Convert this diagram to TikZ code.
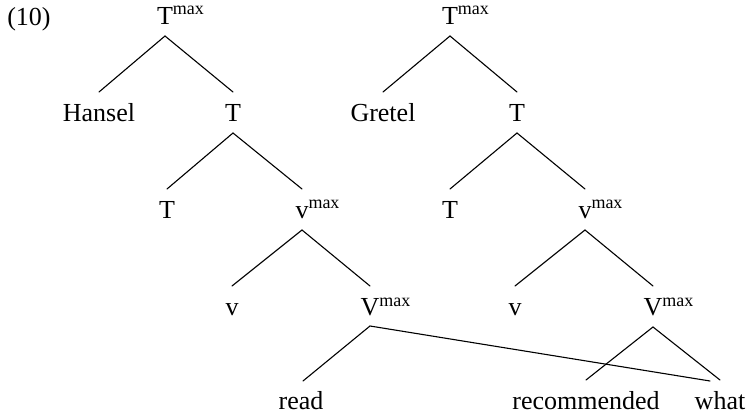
\documentclass[tikz,border=0pt]{standalone}
\usepackage{fontspec}
\setmainfont{Liberation Serif}
\usetikzlibrary{calc}
\newcommand{\mysup}[1]{\rlap{\raisebox{5pt}{\fontsize{9}{10}\selectfont #1}}}
\begin{document}
\begin{tikzpicture}[x=0.5pt,y=-0.5pt,
  lab/.style={inner sep=0pt,anchor=base,font=\fontsize{13}{15}\selectfont},
  branch/.style={line width=0.55pt,line cap=round}]
\useasboundingbox (0,0) rectangle (746,417);
\node[lab] (num) at (29,26) {(10)};
% left tree
\node[lab] (LTmax) at (165,25) {T\mysup{max}};
\node[lab] (Hansel) at (99,122) {Hansel};
\node[lab] (LT1) at (233,122) {T};
\node[lab] (LT2) at (167,219) {T};
\node[lab] (Lvmax) at (302,219) {v\mysup{max}};
\node[lab] (Lv) at (232,316) {v};
\node[lab] (LVmax) at (370,316) {V\mysup{max}};
\node[lab] (read) at (301,410) {read};
% right tree
\node[lab] (RTmax) at (450,25) {T\mysup{max}};
\node[lab] (Gretel) at (383,122) {Gretel};
\node[lab] (RT1) at (517,122) {T};
\node[lab] (RT2) at (450,219) {T};
\node[lab] (Rvmax) at (585,219) {v\mysup{max}};
\node[lab] (Rv) at (515,316) {v};
\node[lab] (RVmax) at (653,316) {V\mysup{max}};
\node[lab] (rec) at (586,410) {recommended};
\node[lab] (what) at (720,410) {what};
% branches
\foreach \p/\a/\b in {LTmax/Hansel/LT1, LT1/LT2/Lvmax, Lvmax/Lv/LVmax,
                      RTmax/Gretel/RT1, RT1/RT2/Rvmax, Rvmax/Rv/RVmax, RVmax/rec/what}{
  \draw[branch] ($(\a.base)+(0,-30)$) -- ($(\p.base)+(0,11)$) -- ($(\b.base)+(0,-30)$);
}
\draw[branch] ($(read.base)+(2,-29)$) -- ($(LVmax.base)+(0,10)$) -- ($(what.base)+(-10,-29)$);
\end{tikzpicture}
\end{document}
